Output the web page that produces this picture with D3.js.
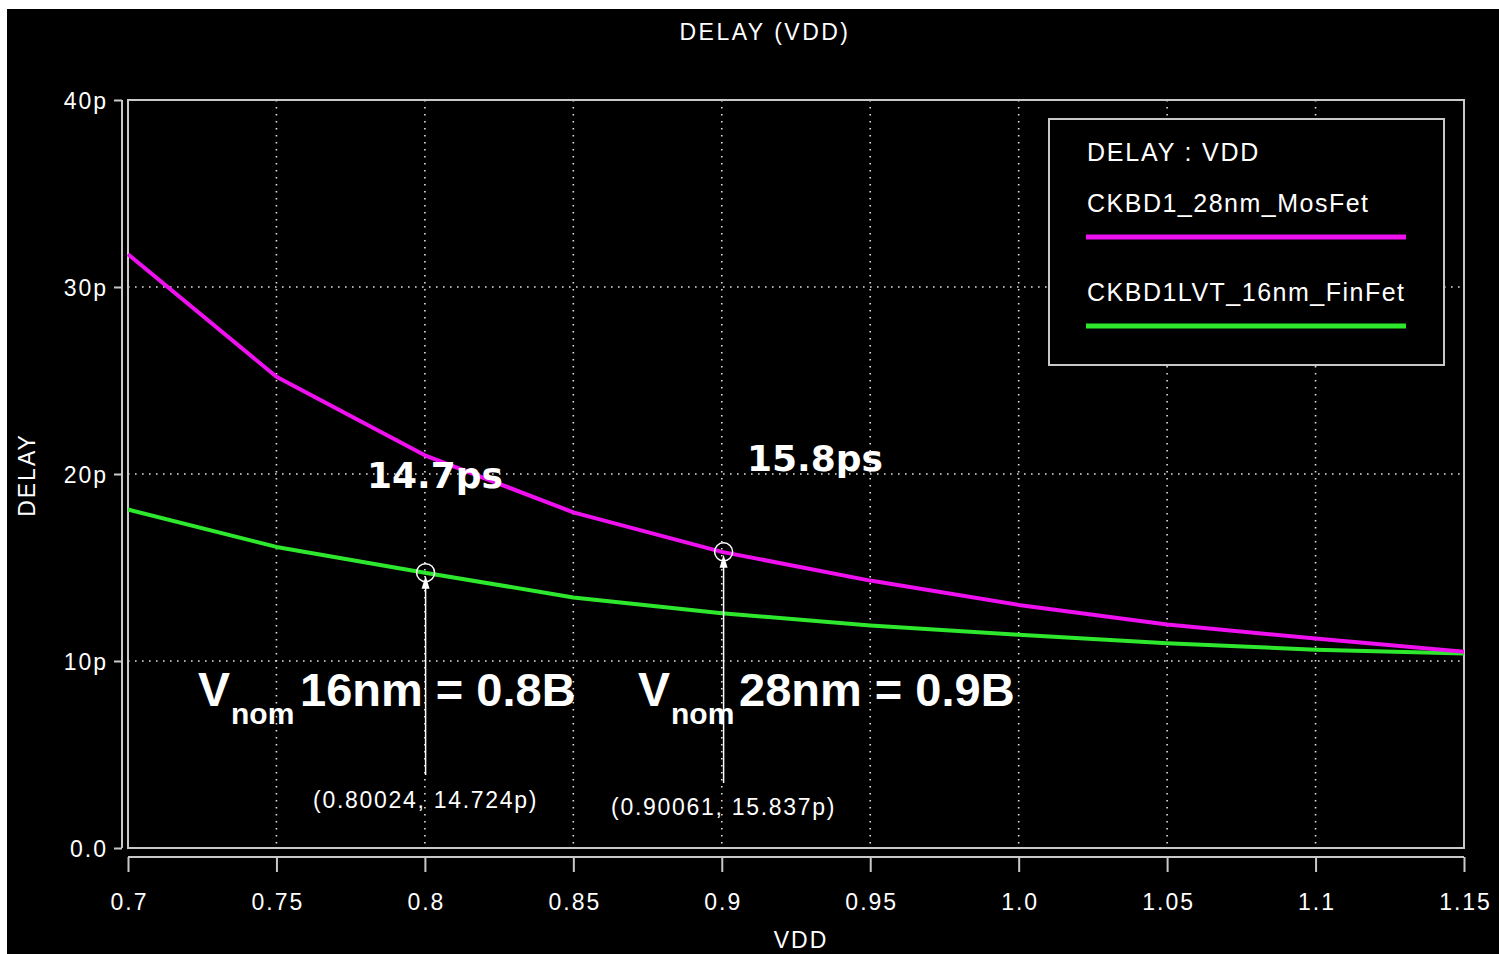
<!DOCTYPE html>
<html>
<head>
<meta charset="utf-8">
<script src="https://cdn.jsdelivr.net/npm/d3@7"></script>
<style>
  html, body { margin: 0; padding: 0; background: #fff; }
  svg { display: block; }
</style>
</head>
<body>
<div id="chart"></div>
<script>
// VDD sweep and delays (ps)
const vdd = [0.7, 0.75, 0.8, 0.85, 0.9, 0.95, 1.0, 1.05, 1.1, 1.15];
const delay28 = [31.75, 25.2, 21.0, 17.95, 15.837, 14.3, 13.0, 11.95, 11.2, 10.5];
const delay16 = [18.1, 16.1, 14.724, 13.4, 12.55, 11.9, 11.4, 10.95, 10.6, 10.4];
const seriesNames = ['CKBD1_28nm_MosFet', 'CKBD1LVT_16nm_FinFet'];
const xTicks = [0.7, 0.75, 0.8, 0.85, 0.9, 0.95, 1.0, 1.05, 1.1, 1.15];
const xTickLabels = ['0.7', '0.75', '0.8', '0.85', '0.9', '0.95', '1.0', '1.05', '1.1', '1.15'];
const yTicks = [0, 10, 20, 30, 40];
const yTickLabels = ['0.0', '10p', '20p', '30p', '40p'];
const markers = [
    { x: 0.80024, y: 14.724, label: '(0.80024, 14.724p)', lineEnd: 775, labelY: 808 },
    { x: 0.90061, y: 15.837, label: '(0.90061, 15.837p)', lineEnd: 783, labelY: 815 }
];

const W = 1499, H = 954;
const plot = { left: 128, right: 1464, top: 100, bottom: 848 };
const magenta = '#ee10ee', green = '#2ee82e', axisGrey = '#c8c8c8';
const font = '"Liberation Sans", Arial, sans-serif';

const svg = d3.select('#chart').append('svg')
    .attr('width', W).attr('height', H);

svg.append('rect').attr('x', 7).attr('y', 9).attr('width', W - 7).attr('height', H - 9).attr('fill', '#000');

const x = d3.scaleLinear().domain([0.7, 1.15]).range([plot.left, plot.right]);
const y = d3.scaleLinear().domain([0, 40]).range([plot.bottom, plot.top]);

// dotted grid
const grid = svg.append('g')
    .attr('stroke', '#e0e0e0').attr('stroke-width', 1.6).attr('stroke-dasharray', '1.6,5.4');
grid.selectAll('.gx').data(xTicks.slice(1, -1)).join('line')
    .attr('x1', d => x(d)).attr('x2', d => x(d)).attr('y1', plot.top).attr('y2', plot.bottom);
grid.selectAll('.gy').data(yTicks.slice(1, -1)).join('line')
    .attr('x1', plot.left).attr('x2', plot.right).attr('y1', d => y(d)).attr('y2', d => y(d));

// plot frame
svg.append('rect')
    .attr('x', plot.left).attr('y', plot.top)
    .attr('width', plot.right - plot.left).attr('height', plot.bottom - plot.top)
    .attr('fill', 'none').attr('stroke', axisGrey).attr('stroke-width', 2);

// axes, offset from the frame
const xAxis = d3.axisBottom(x).tickValues(xTicks).tickFormat((d, i) => xTickLabels[i])
    .tickSize(15).tickPadding(22);
const gx = svg.append('g').attr('transform', `translate(0,${plot.bottom + 9})`).call(xAxis);

const yAxis = d3.axisLeft(y).tickValues(yTicks).tickFormat((d, i) => yTickLabels[i])
    .tickSize(8).tickPadding(6);
const gy = svg.append('g').attr('transform', `translate(${plot.left - 6},0)`).call(yAxis);

[gx, gy].forEach(g => {
    g.select('.domain').attr('stroke', axisGrey).attr('stroke-width', 2);
    g.selectAll('.tick line').attr('stroke', axisGrey).attr('stroke-width', 2);
    g.selectAll('.tick text')
        .attr('fill', '#fff')
        .style('font-family', font).style('font-size', '23px').style('letter-spacing', '2px');
});
gx.select('.domain').attr('d', `M${plot.left},0H${plot.right}`);
gy.select('.domain').attr('d', `M0,${plot.top}V${plot.bottom}`);
gx.selectAll('.tick text').attr('dy', '0.71em').attr('transform', 'translate(1,0)');
gy.selectAll('.tick text').attr('dy', '0.36em');

// titles
svg.append('text').attr('x', 765).attr('y', 40).attr('text-anchor', 'middle')
    .attr('fill', '#fff').style('font-family', font).style('font-size', '23px').style('letter-spacing', '2.5px')
    .text('DELAY (VDD)');
svg.append('text').attr('transform', 'translate(35,475) rotate(-90)').attr('text-anchor', 'middle')
    .attr('fill', '#fff').style('font-family', font).style('font-size', '23px').style('letter-spacing', '2px')
    .text('DELAY');
svg.append('text').attr('x', 801).attr('y', 948).attr('text-anchor', 'middle')
    .attr('fill', '#fff').style('font-family', font).style('font-size', '23px').style('letter-spacing', '2px')
    .text('VDD');

// curves
const line = d3.line().x(d => x(d[0])).y(d => y(d[1]));
const series = [
    { name: seriesNames[0], color: magenta, values: d3.zip(vdd, delay28) },
    { name: seriesNames[1], color: green, values: d3.zip(vdd, delay16) }
];
svg.append('g').selectAll('path').data(series.slice().reverse()).join('path')
    .attr('d', d => line(d.values))
    .attr('fill', 'none').attr('stroke', d => d.color).attr('stroke-width', 4)
    .attr('stroke-linejoin', 'round');

// markers with vertical pointer lines
const mk = svg.append('g');
markers.forEach(m => {
    const cx = x(m.x), cy = y(m.y);
    mk.append('line').attr('x1', cx).attr('x2', cx).attr('y1', cy + 9).attr('y2', m.lineEnd)
        .attr('stroke', '#fff').attr('stroke-width', 1.5);
    mk.append('path')
        .attr('d', `M${cx},${cy + 3}L${cx - 4},${cy + 16}L${cx + 4},${cy + 16}Z`)
        .attr('fill', '#fff');
    mk.append('circle').attr('cx', cx).attr('cy', cy).attr('r', 9)
        .attr('fill', 'none').attr('stroke', '#fff').attr('stroke-width', 1.5);
    mk.append('text').attr('x', cx).attr('y', m.labelY).attr('text-anchor', 'middle')
        .attr('fill', '#fff').style('font-family', font).style('font-size', '23px').style('letter-spacing', '1.7px')
        .text(m.label);
});

// legend
const lg = svg.append('g');
lg.append('rect').attr('x', 1049).attr('y', 119).attr('width', 395).attr('height', 246)
    .attr('fill', '#000').attr('stroke', axisGrey).attr('stroke-width', 2);
lg.append('text').attr('x', 1087).attr('y', 161).attr('fill', '#fff')
    .style('font-family', font).style('font-size', '25px').style('letter-spacing', '1.8px')
    .text('DELAY  :  VDD');
series.forEach((s, i) => {
    const base = 212 + i * 89;
    lg.append('text').attr('x', 1087).attr('y', base).attr('fill', '#fff')
        .style('font-family', font).style('font-size', '25px').style('letter-spacing', '1.5px')
        .text(s.name);
    lg.append('line').attr('x1', 1086).attr('x2', 1406).attr('y1', base + 25).attr('y2', base + 25)
        .attr('stroke', s.color).attr('stroke-width', 5);
});

// bold annotations
const bold = '"DejaVu Sans", Verdana, sans-serif';
svg.append('text').attr('x', 367).attr('y', 488).attr('fill', '#fff')
    .style('font-family', bold).style('font-weight', 'bold').style('font-size', '36px')
    .text('14.7ps');
svg.append('text').attr('x', 747).attr('y', 471).attr('fill', '#fff')
    .style('font-family', bold).style('font-weight', 'bold').style('font-size', '36px')
    .text('15.8ps');

const vnom = [
    { x: 198, rest: '16nm = 0.8B', restX: 300 },
    { x: 638, rest: '28nm = 0.9B', restX: 739 }
];
vnom.forEach(v => {
    const t = svg.append('text').attr('y', 706).attr('fill', '#fff')
        .style('font-family', font).style('font-weight', 'bold');
    t.append('tspan').attr('x', v.x).style('font-size', '48px').text('V');
    t.append('tspan').attr('x', v.x + 33).attr('dy', 18).style('font-size', '30px').text('nom');
    t.append('tspan').attr('x', v.restX).attr('dy', -18).style('font-size', '47px').text(v.rest);
});
</script>
</body>
</html>
